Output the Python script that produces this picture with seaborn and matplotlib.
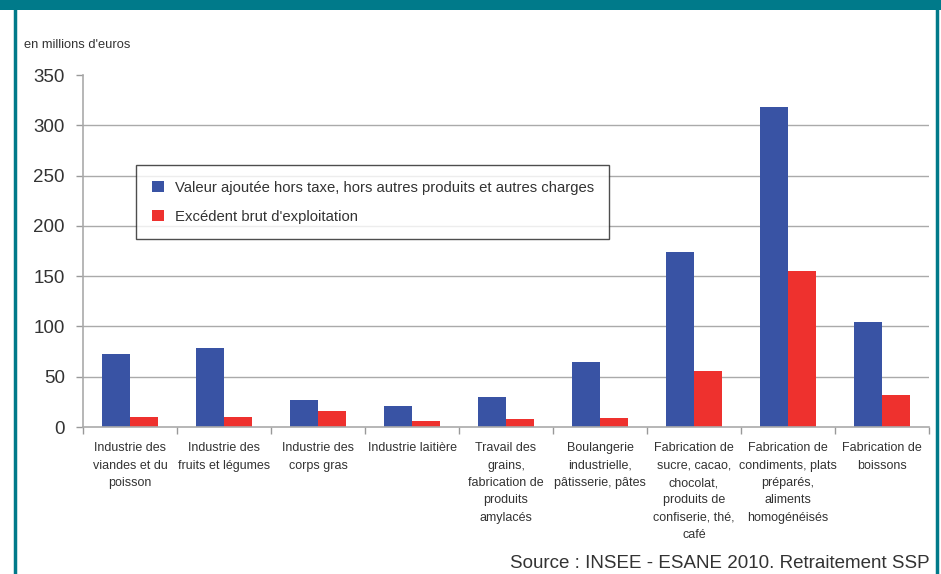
import matplotlib
matplotlib.use("Agg")
import matplotlib.pyplot as plt
import seaborn as sns
import pandas as pd
from matplotlib.patches import Rectangle
from matplotlib.lines import Line2D

categories = [
    "Industrie des\nviandes et du\npoisson",
    "Industrie des\nfruits et légumes",
    "Industrie des\ncorps gras",
    "Industrie laitière",
    "Travail des\ngrains,\nfabrication de\nproduits\namylacés",
    "Boulangerie\nindustrielle,\npâtisserie, pâtes",
    "Fabrication de\nsucre, cacao,\nchocolat,\nproduits de\nconfiserie, thé,\ncafé",
    "Fabrication de\ncondiments, plats\npréparés,\naliments\nhomogénéisés",
    "Fabrication de\nboissons",
]
series_names = [
    "Valeur ajoutée hors taxe, hors autres produits et autres charges",
    "Excédent brut d'exploitation",
]
valeur_ajoutee = [73, 79, 27, 21, 30, 65, 174, 318, 104]
ebe = [10, 10, 16, 6, 8, 9, 56, 155, 32]
yticks = [0, 50, 100, 150, 200, 250, 300, 350]

colors = ["#3953A4", "#EE312E"]
teal = "#007A8A"
txt = "#333333"
fam = ["Liberation Sans Narrow", "Liberation Sans", "DejaVu Sans"]

sns.set_theme(style="white")
plt.rcParams["font.family"] = fam

df = pd.DataFrame({
    "cat": categories * 2,
    "serie": [series_names[0]] * 9 + [series_names[1]] * 9,
    "val": valeur_ajoutee + ebe,
})

W, H = 941, 574
fig = plt.figure(figsize=(W / 100, H / 100), dpi=100)
fig.patch.set_facecolor("white")

x0, x1, ytop, ybot = 83, 929, 75, 427
ax = fig.add_axes([x0 / W, (H - ybot) / H, (x1 - x0) / W, (ybot - ytop) / H])

sns.barplot(data=df, x="cat", y="val", hue="serie", palette=colors,
            width=0.6, gap=0, saturation=1, ax=ax, legend=False, errorbar=None,
            edgecolor="none", linewidth=0)

ax.set_xlim(-0.5, 8.5)
ax.set_ylim(0, 350)
ax.set_yticks(yticks)
ax.set_yticklabels([str(v) for v in yticks], fontsize=13.5, color=txt, family=fam)
for v in yticks[1:-1]:
    ax.axhline(v, color="#AAAAAA", lw=1, zorder=0)
ax.set_xlabel("")
ax.set_ylabel("")
ax.set_xticks(range(9))
ax.set_xticklabels(categories, fontsize=9, color=txt, linespacing=1.6,
                   family=fam, va="top")
ax.set_xticks([i - 0.5 for i in range(10)], minor=True)
ax.tick_params(axis="x", which="major", length=0, pad=11)
ax.tick_params(axis="x", which="minor", length=5, color="#999999", width=1, direction="out", bottom=True)
ax.tick_params(axis="y", length=5, color="#999999", width=1, direction="out", left=True, pad=8)
for s in ["top", "right"]:
    ax.spines[s].set_visible(False)
for s in ["left", "bottom"]:
    ax.spines[s].set_color("#AAAAAA")
    ax.spines[s].set_linewidth(1.2)

# legend
handles = [Rectangle((0, 0), 1, 1, facecolor=c, edgecolor="none") for c in colors]
leg = fig.legend(handles, series_names, loc="upper left",
                 bbox_to_anchor=(136 / W, 1 - 165 / H), fontsize=10.7,
                 frameon=True, fancybox=False, edgecolor="#222222",
                 handlelength=0.85, handleheight=0.85, handletextpad=0.7,
                 borderpad=1.05, labelspacing=1.0, borderaxespad=0)
leg.get_frame().set_linewidth(1)
for t in leg.get_texts():
    t.set_color(txt)
    t.set_family(["Liberation Sans", "DejaVu Sans"])

# texts
fig.text(24 / W, 1 - 45 / H, "en millions d'euros", fontsize=9.3, color=txt,
         va="center", ha="left", family=fam)
fig.text(930 / W, 1 - 564 / H, "Source : INSEE - ESANE 2010. Retraitement SSP",
         fontsize=13.5, color=txt, va="center", ha="right",
         family=["Liberation Sans", "DejaVu Sans"])

# frame
fig.add_artist(Rectangle((0, 1 - 10 / H), 1, 10 / H, transform=fig.transFigure,
                         facecolor=teal, edgecolor="none"))
fig.add_artist(Line2D([14.5 / W, 14.5 / W], [0, 1], transform=fig.transFigure, color=teal, lw=2.5))
fig.add_artist(Line2D([936.5 / W, 936.5 / W], [0, 1], transform=fig.transFigure, color=teal, lw=2.5))

fig.savefig("out.png", dpi=100, facecolor="white")
